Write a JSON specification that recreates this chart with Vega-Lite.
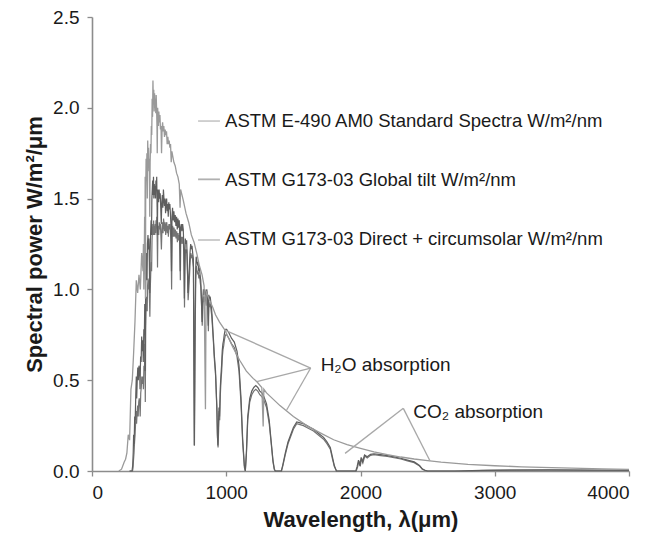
{
  "$schema": "https://vega.github.io/schema/vega-lite/v6.json",
  "autosize": "none",
  "width": 537,
  "height": 454,
  "padding": {"left": 92, "top": 17, "right": 38, "bottom": 64},
  "background": "white",
  "config": {
    "view": {"stroke": null},
    "font": "Liberation Sans",
    "axis": {"grid": false, "domainColor": "#8c8c8c", "domainWidth": 1.6, "tickColor": "#8c8c8c", "tickWidth": 1.3, "tickSize": 5, "labelFont": "Liberation Sans", "labelFontSize": 19, "labelColor": "#1a1a1a", "titleFont": "Liberation Sans", "titleFontSize": 22, "titleFontWeight": "bold", "titleColor": "#1a1a1a"}
  },
  "datasets": {
    "am0": [
      {"wl":200,"p":0.0},{"wl":220,"p":0.01},{"wl":240,"p":0.05},{"wl":250,"p":0.065},{"wl":260,"p":0.1},{"wl":270,"p":0.2},{"wl":280,"p":0.17},{"wl":290,"p":0.45},{"wl":300,"p":0.5},{"wl":310,"p":0.65},{"wl":320,"p":0.82},{"wl":330,"p":1.05},{"wl":340,"p":0.98},{"wl":350,"p":1.08},{"wl":360,"p":1.0},{"wl":370,"p":1.2},{"wl":380,"p":1.1},{"wl":383,"p":1.25},{"wl":386,"p":1.0},{"wl":389,"p":1.15},{"wl":392,"p":1.4},{"wl":394,"p":1.1},{"wl":396,"p":1.62},{"wl":398,"p":0.95},{"wl":400,"p":1.55},{"wl":403,"p":1.72},{"wl":406,"p":1.6},{"wl":409,"p":1.75},{"wl":412,"p":1.5},{"wl":415,"p":1.82},{"wl":418,"p":1.7},{"wl":421,"p":1.78},{"wl":424,"p":1.65},{"wl":427,"p":1.72},{"wl":430,"p":1.4},{"wl":433,"p":1.7},{"wl":436,"p":1.8},{"wl":439,"p":1.75},{"wl":442,"p":1.9},{"wl":445,"p":1.85},{"wl":448,"p":2.05},{"wl":451,"p":1.95},{"wl":454,"p":2.15},{"wl":457,"p":2.02},{"wl":460,"p":2.1},{"wl":463,"p":1.98},{"wl":466,"p":2.08},{"wl":469,"p":2.0},{"wl":472,"p":2.05},{"wl":475,"p":1.97},{"wl":478,"p":2.07},{"wl":481,"p":2.0},{"wl":484,"p":1.9},{"wl":486,"p":1.75},{"wl":489,"p":2.0},{"wl":492,"p":1.95},{"wl":495,"p":1.9},{"wl":498,"p":1.98},{"wl":502,"p":1.92},{"wl":506,"p":1.96},{"wl":510,"p":1.88},{"wl":514,"p":1.9},{"wl":518,"p":1.75},{"wl":522,"p":1.88},{"wl":526,"p":1.92},{"wl":530,"p":1.87},{"wl":535,"p":1.9},{"wl":540,"p":1.84},{"wl":545,"p":1.88},{"wl":550,"p":1.85},{"wl":555,"p":1.87},{"wl":560,"p":1.8},{"wl":565,"p":1.84},{"wl":570,"p":1.8},{"wl":575,"p":1.82},{"wl":580,"p":1.78},{"wl":585,"p":1.8},{"wl":590,"p":1.7},{"wl":595,"p":1.76},{"wl":600,"p":1.74},{"wl":610,"p":1.7},{"wl":620,"p":1.68},{"wl":630,"p":1.64},{"wl":640,"p":1.62},{"wl":650,"p":1.58},{"wl":656,"p":1.45},{"wl":660,"p":1.55},{"wl":670,"p":1.52},{"wl":680,"p":1.49},{"wl":700,"p":1.42},{"wl":720,"p":1.37},{"wl":740,"p":1.3},{"wl":760,"p":1.26},{"wl":780,"p":1.2},{"wl":800,"p":1.13},{"wl":820,"p":1.08},{"wl":835,"p":1.02},{"wl":845,"p":0.34},{"wl":850,"p":0.99},{"wl":870,"p":0.95},{"wl":900,"p":0.9},{"wl":920,"p":0.86},{"wl":950,"p":0.82},{"wl":990,"p":0.776},{"wl":1050,"p":0.68},{"wl":1100,"p":0.61},{"wl":1150,"p":0.55},{"wl":1200,"p":0.51},{"wl":1230,"p":0.49},{"wl":1265,"p":0.46},{"wl":1275,"p":0.245},{"wl":1280,"p":0.45},{"wl":1300,"p":0.43},{"wl":1400,"p":0.36},{"wl":1450,"p":0.33},{"wl":1500,"p":0.3},{"wl":1600,"p":0.25},{"wl":1700,"p":0.21},{"wl":1800,"p":0.172},{"wl":1900,"p":0.145},{"wl":2000,"p":0.125},{"wl":2100,"p":0.105},{"wl":2200,"p":0.09},{"wl":2300,"p":0.077},{"wl":2400,"p":0.066},{"wl":2500,"p":0.057},{"wl":2600,"p":0.049},{"wl":2800,"p":0.037},{"wl":3000,"p":0.029},{"wl":3200,"p":0.023},{"wl":3500,"p":0.017},{"wl":3800,"p":0.012},{"wl":4000,"p":0.009}
    ],
    "global": [
      {"wl":280,"p":0},{"wl":298,"p":0},{"wl":303,"p":0.03},{"wl":307,"p":0.1},{"wl":310,"p":0.2},{"wl":314,"p":0.15},{"wl":318,"p":0.3},{"wl":322,"p":0.28},{"wl":326,"p":0.42},{"wl":330,"p":0.52},{"wl":333,"p":0.4},{"wl":337,"p":0.5},{"wl":341,"p":0.57},{"wl":345,"p":0.5},{"wl":350,"p":0.58},{"wl":355,"p":0.55},{"wl":358,"p":0.45},{"wl":362,"p":0.63},{"wl":366,"p":0.6},{"wl":370,"p":0.74},{"wl":374,"p":0.66},{"wl":378,"p":0.72},{"wl":382,"p":0.6},{"wl":386,"p":0.78},{"wl":390,"p":0.75},{"wl":393,"p":0.92},{"wl":396,"p":0.55},{"wl":399,"p":0.95},{"wl":402,"p":1.15},{"wl":406,"p":1.2},{"wl":410,"p":1.05},{"wl":413,"p":1.25},{"wl":417,"p":1.3},{"wl":420,"p":1.22},{"wl":424,"p":1.28},{"wl":427,"p":1.15},{"wl":430,"p":0.98},{"wl":433,"p":1.2},{"wl":437,"p":1.32},{"wl":440,"p":1.38},{"wl":443,"p":1.3},{"wl":446,"p":1.5},{"wl":449,"p":1.55},{"wl":452,"p":1.6},{"wl":455,"p":1.52},{"wl":458,"p":1.62},{"wl":461,"p":1.5},{"wl":464,"p":1.58},{"wl":467,"p":1.52},{"wl":470,"p":1.57},{"wl":473,"p":1.5},{"wl":476,"p":1.6},{"wl":479,"p":1.55},{"wl":482,"p":1.62},{"wl":485,"p":1.45},{"wl":487,"p":1.3},{"wl":490,"p":1.55},{"wl":493,"p":1.52},{"wl":496,"p":1.48},{"wl":500,"p":1.55},{"wl":504,"p":1.5},{"wl":508,"p":1.53},{"wl":512,"p":1.45},{"wl":516,"p":1.36},{"wl":520,"p":1.48},{"wl":524,"p":1.52},{"wl":528,"p":1.45},{"wl":532,"p":1.55},{"wl":536,"p":1.5},{"wl":540,"p":1.46},{"wl":544,"p":1.5},{"wl":548,"p":1.42},{"wl":552,"p":1.48},{"wl":556,"p":1.5},{"wl":560,"p":1.43},{"wl":564,"p":1.47},{"wl":568,"p":1.4},{"wl":572,"p":1.48},{"wl":576,"p":1.44},{"wl":580,"p":1.47},{"wl":584,"p":1.42},{"wl":588,"p":1.35},{"wl":592,"p":1.1},{"wl":596,"p":1.4},{"wl":600,"p":1.45},{"wl":605,"p":1.38},{"wl":610,"p":1.43},{"wl":615,"p":1.37},{"wl":620,"p":1.41},{"wl":625,"p":1.35},{"wl":630,"p":1.4},{"wl":635,"p":1.33},{"wl":640,"p":1.39},{"wl":645,"p":1.34},{"wl":650,"p":1.38},{"wl":654,"p":1.28},{"wl":657,"p":1.1},{"wl":660,"p":1.34},{"wl":665,"p":1.36},{"wl":670,"p":1.32},{"wl":675,"p":1.36},{"wl":680,"p":1.33},{"wl":685,"p":1.2},{"wl":688,"p":0.95},{"wl":691,"p":1.15},{"wl":695,"p":1.28},{"wl":700,"p":1.25},{"wl":705,"p":1.27},{"wl":710,"p":1.15},{"wl":715,"p":0.98},{"wl":720,"p":1.05},{"wl":725,"p":1.12},{"wl":730,"p":1.2},{"wl":735,"p":1.25},{"wl":740,"p":1.23},{"wl":745,"p":1.24},{"wl":750,"p":1.2},{"wl":755,"p":1.17},{"wl":759,"p":0.6},{"wl":762,"p":0.14},{"wl":765,"p":0.5},{"wl":768,"p":0.85},{"wl":772,"p":1.1},{"wl":776,"p":1.18},{"wl":780,"p":1.16},{"wl":785,"p":1.14},{"wl":790,"p":1.15},{"wl":795,"p":1.1},{"wl":800,"p":1.12},{"wl":805,"p":1.08},{"wl":810,"p":1.05},{"wl":815,"p":0.95},{"wl":820,"p":0.82},{"wl":825,"p":0.95},{"wl":830,"p":1.0},{"wl":835,"p":0.97},{"wl":840,"p":1.0},{"wl":845,"p":0.98},{"wl":850,"p":0.95},{"wl":855,"p":1.0},{"wl":860,"p":0.97},{"wl":866,"p":0.8},{"wl":870,"p":0.97},{"wl":875,"p":0.95},{"wl":880,"p":0.96},{"wl":885,"p":0.93},{"wl":890,"p":0.9},{"wl":895,"p":0.85},{"wl":900,"p":0.78},{"wl":905,"p":0.72},{"wl":910,"p":0.65},{"wl":915,"p":0.6},{"wl":920,"p":0.55},{"wl":925,"p":0.45},{"wl":930,"p":0.35},{"wl":934,"p":0.2},{"wl":938,"p":0.14},{"wl":942,"p":0.25},{"wl":946,"p":0.35},{"wl":950,"p":0.3},{"wl":955,"p":0.45},{"wl":960,"p":0.52},{"wl":965,"p":0.58},{"wl":970,"p":0.66},{"wl":975,"p":0.7},{"wl":980,"p":0.72},{"wl":985,"p":0.75},{"wl":990,"p":0.77},{"wl":995,"p":0.78},{"wl":1003,"p":0.78},{"wl":1020,"p":0.76},{"wl":1040,"p":0.73},{"wl":1060,"p":0.71},{"wl":1080,"p":0.66},{"wl":1095,"p":0.58},{"wl":1110,"p":0.4},{"wl":1122,"p":0.18},{"wl":1135,"p":0.03},{"wl":1142,"p":0.0},{"wl":1150,"p":0.1},{"wl":1160,"p":0.3},{"wl":1175,"p":0.4},{"wl":1190,"p":0.44},{"wl":1205,"p":0.46},{"wl":1220,"p":0.47},{"wl":1235,"p":0.46},{"wl":1250,"p":0.44},{"wl":1265,"p":0.43},{"wl":1280,"p":0.41},{"wl":1300,"p":0.37},{"wl":1320,"p":0.28},{"wl":1335,"p":0.16},{"wl":1348,"p":0.06},{"wl":1358,"p":0.01},{"wl":1365,"p":0.0},{"wl":1410,"p":0.0},{"wl":1420,"p":0.03},{"wl":1440,"p":0.1},{"wl":1460,"p":0.16},{"wl":1480,"p":0.2},{"wl":1500,"p":0.24},{"wl":1525,"p":0.27},{"wl":1550,"p":0.265},{"wl":1575,"p":0.26},{"wl":1600,"p":0.25},{"wl":1625,"p":0.24},{"wl":1650,"p":0.23},{"wl":1675,"p":0.215},{"wl":1700,"p":0.2},{"wl":1725,"p":0.185},{"wl":1750,"p":0.16},{"wl":1775,"p":0.13},{"wl":1790,"p":0.08},{"wl":1805,"p":0.03},{"wl":1820,"p":0.0},{"wl":1965,"p":0.0},{"wl":1975,"p":0.025},{"wl":1985,"p":0.06},{"wl":1995,"p":0.03},{"wl":2005,"p":0.075},{"wl":2015,"p":0.05},{"wl":2030,"p":0.088},{"wl":2050,"p":0.078},{"wl":2075,"p":0.092},{"wl":2100,"p":0.095},{"wl":2150,"p":0.09},{"wl":2200,"p":0.085},{"wl":2250,"p":0.078},{"wl":2300,"p":0.07},{"wl":2350,"p":0.06},{"wl":2400,"p":0.05},{"wl":2440,"p":0.03},{"wl":2460,"p":0.012},{"wl":2480,"p":0.004},{"wl":2500,"p":0.0},{"wl":2700,"p":0.0},{"wl":2900,"p":0.003},{"wl":3100,"p":0.005},{"wl":3400,"p":0.006},{"wl":3700,"p":0.005},{"wl":4000,"p":0.004}
    ],
    "direct": [
      {"wl":280,"p":0},{"wl":302,"p":0},{"wl":306,"p":0.02},{"wl":309,"p":0.06},{"wl":313,"p":0.1},{"wl":317,"p":0.16},{"wl":321,"p":0.2},{"wl":325,"p":0.27},{"wl":329,"p":0.33},{"wl":332,"p":0.26},{"wl":336,"p":0.32},{"wl":340,"p":0.36},{"wl":344,"p":0.3},{"wl":348,"p":0.38},{"wl":352,"p":0.4},{"wl":356,"p":0.36},{"wl":359,"p":0.3},{"wl":363,"p":0.43},{"wl":367,"p":0.46},{"wl":371,"p":0.52},{"wl":375,"p":0.48},{"wl":379,"p":0.52},{"wl":383,"p":0.45},{"wl":387,"p":0.58},{"wl":391,"p":0.56},{"wl":394,"p":0.7},{"wl":397,"p":0.38},{"wl":400,"p":0.78},{"wl":403,"p":0.9},{"wl":407,"p":0.96},{"wl":411,"p":0.88},{"wl":414,"p":1.02},{"wl":418,"p":1.06},{"wl":421,"p":1.0},{"wl":425,"p":1.05},{"wl":428,"p":0.95},{"wl":431,"p":0.85},{"wl":434,"p":1.0},{"wl":438,"p":1.1},{"wl":441,"p":1.15},{"wl":444,"p":1.1},{"wl":447,"p":1.27},{"wl":450,"p":1.32},{"wl":453,"p":1.36},{"wl":456,"p":1.3},{"wl":459,"p":1.38},{"wl":462,"p":1.3},{"wl":465,"p":1.35},{"wl":468,"p":1.3},{"wl":471,"p":1.36},{"wl":474,"p":1.31},{"wl":477,"p":1.38},{"wl":480,"p":1.34},{"wl":483,"p":1.4},{"wl":486,"p":1.26},{"wl":488,"p":1.12},{"wl":491,"p":1.35},{"wl":494,"p":1.33},{"wl":497,"p":1.3},{"wl":501,"p":1.37},{"wl":505,"p":1.33},{"wl":509,"p":1.36},{"wl":513,"p":1.3},{"wl":517,"p":1.22},{"wl":521,"p":1.33},{"wl":525,"p":1.37},{"wl":529,"p":1.31},{"wl":533,"p":1.39},{"wl":537,"p":1.36},{"wl":541,"p":1.32},{"wl":545,"p":1.37},{"wl":549,"p":1.3},{"wl":553,"p":1.35},{"wl":557,"p":1.37},{"wl":561,"p":1.31},{"wl":565,"p":1.35},{"wl":569,"p":1.29},{"wl":573,"p":1.36},{"wl":577,"p":1.33},{"wl":581,"p":1.36},{"wl":585,"p":1.31},{"wl":589,"p":1.25},{"wl":593,"p":1.0},{"wl":597,"p":1.3},{"wl":601,"p":1.35},{"wl":606,"p":1.29},{"wl":611,"p":1.34},{"wl":616,"p":1.29},{"wl":621,"p":1.33},{"wl":626,"p":1.28},{"wl":631,"p":1.32},{"wl":636,"p":1.26},{"wl":641,"p":1.31},{"wl":646,"p":1.27},{"wl":651,"p":1.3},{"wl":655,"p":1.2},{"wl":658,"p":1.05},{"wl":661,"p":1.27},{"wl":666,"p":1.29},{"wl":671,"p":1.25},{"wl":676,"p":1.29},{"wl":681,"p":1.26},{"wl":686,"p":1.12},{"wl":689,"p":0.9},{"wl":692,"p":1.1},{"wl":696,"p":1.22},{"wl":701,"p":1.2},{"wl":706,"p":1.22},{"wl":711,"p":1.1},{"wl":716,"p":0.94},{"wl":721,"p":1.0},{"wl":726,"p":1.07},{"wl":731,"p":1.15},{"wl":736,"p":1.2},{"wl":741,"p":1.18},{"wl":746,"p":1.19},{"wl":751,"p":1.15},{"wl":756,"p":1.12},{"wl":760,"p":0.5},{"wl":763,"p":0.14},{"wl":766,"p":0.45},{"wl":769,"p":0.8},{"wl":773,"p":1.05},{"wl":777,"p":1.13},{"wl":781,"p":1.11},{"wl":786,"p":1.09},{"wl":791,"p":1.1},{"wl":796,"p":1.06},{"wl":801,"p":1.08},{"wl":806,"p":1.04},{"wl":811,"p":1.01},{"wl":816,"p":0.91},{"wl":821,"p":0.8},{"wl":826,"p":0.91},{"wl":831,"p":0.96},{"wl":836,"p":0.93},{"wl":841,"p":0.96},{"wl":846,"p":0.94},{"wl":851,"p":0.91},{"wl":856,"p":0.96},{"wl":861,"p":0.93},{"wl":867,"p":0.77},{"wl":871,"p":0.93},{"wl":876,"p":0.91},{"wl":881,"p":0.92},{"wl":886,"p":0.89},{"wl":891,"p":0.86},{"wl":896,"p":0.81},{"wl":901,"p":0.75},{"wl":906,"p":0.69},{"wl":911,"p":0.62},{"wl":916,"p":0.57},{"wl":921,"p":0.52},{"wl":926,"p":0.42},{"wl":931,"p":0.32},{"wl":935,"p":0.18},{"wl":939,"p":0.13},{"wl":943,"p":0.22},{"wl":947,"p":0.33},{"wl":951,"p":0.28},{"wl":956,"p":0.42},{"wl":961,"p":0.5},{"wl":966,"p":0.55},{"wl":971,"p":0.63},{"wl":976,"p":0.67},{"wl":981,"p":0.69},{"wl":986,"p":0.72},{"wl":991,"p":0.74},{"wl":996,"p":0.75},{"wl":1003,"p":0.75},{"wl":1020,"p":0.73},{"wl":1040,"p":0.7},{"wl":1060,"p":0.68},{"wl":1080,"p":0.63},{"wl":1095,"p":0.55},{"wl":1110,"p":0.37},{"wl":1122,"p":0.16},{"wl":1135,"p":0.02},{"wl":1142,"p":0.0},{"wl":1150,"p":0.09},{"wl":1160,"p":0.28},{"wl":1175,"p":0.38},{"wl":1190,"p":0.42},{"wl":1205,"p":0.44},{"wl":1220,"p":0.45},{"wl":1235,"p":0.44},{"wl":1250,"p":0.42},{"wl":1265,"p":0.41},{"wl":1280,"p":0.39},{"wl":1300,"p":0.35},{"wl":1320,"p":0.26},{"wl":1335,"p":0.15},{"wl":1348,"p":0.05},{"wl":1358,"p":0.01},{"wl":1365,"p":0.0},{"wl":1412,"p":0.0},{"wl":1422,"p":0.03},{"wl":1440,"p":0.09},{"wl":1460,"p":0.15},{"wl":1480,"p":0.19},{"wl":1500,"p":0.23},{"wl":1525,"p":0.26},{"wl":1550,"p":0.255},{"wl":1575,"p":0.25},{"wl":1600,"p":0.24},{"wl":1625,"p":0.23},{"wl":1650,"p":0.22},{"wl":1675,"p":0.205},{"wl":1700,"p":0.19},{"wl":1725,"p":0.175},{"wl":1750,"p":0.15},{"wl":1775,"p":0.12},{"wl":1790,"p":0.07},{"wl":1805,"p":0.025},{"wl":1822,"p":0.0},{"wl":1968,"p":0.0},{"wl":1978,"p":0.02},{"wl":1988,"p":0.055},{"wl":1998,"p":0.025},{"wl":2008,"p":0.07},{"wl":2018,"p":0.045},{"wl":2032,"p":0.082},{"wl":2050,"p":0.072},{"wl":2075,"p":0.086},{"wl":2100,"p":0.09},{"wl":2150,"p":0.085},{"wl":2200,"p":0.08},{"wl":2250,"p":0.073},{"wl":2300,"p":0.066},{"wl":2350,"p":0.056},{"wl":2400,"p":0.046},{"wl":2440,"p":0.027},{"wl":2460,"p":0.01},{"wl":2480,"p":0.003},{"wl":2500,"p":0.0},{"wl":2750,"p":0.0},{"wl":2950,"p":0.003},{"wl":3150,"p":0.005},{"wl":3450,"p":0.005},{"wl":3750,"p":0.004},{"wl":4000,"p":0.003}
    ],
    "legend": [
      {"label":"ASTM E-490 AM0 Standard Spectra W/m²/nm","x1":790,"x2":953,"ly":1.927,"ty":1.93,"tx":991,"color":"#cccccc"},
      {"label":"ASTM G173-03 Global tilt W/m²/nm","x1":790,"x2":953,"ly":1.606,"ty":1.604,"tx":991,"color":"#b0b0b0"},
      {"label":"ASTM G173-03 Direct + circumsolar W/m²/nm","x1":790,"x2":953,"ly":1.272,"ty":1.2775,"tx":991,"color":"#c8c8c8"}
    ],
    "leaders": [
      {"xa":990,"ya":0.776,"xb":1629,"yb":0.567},
      {"xa":1227,"ya":0.492,"xb":1629,"yb":0.567},
      {"xa":1450,"ya":0.336,"xb":1629,"yb":0.567},
      {"xa":1885,"ya":0.097,"xb":2319,"yb":0.345},
      {"xa":2518,"ya":0.055,"xb":2319,"yb":0.345}
    ],
    "notes": [
      {"label":"H₂O absorption","x":1703,"y":0.584},
      {"label":"CO₂ absorption","x":2393,"y":0.3265}
    ]
  },
  "layer": [
    {
      "data": {"name": "direct"},
      "mark": {"type": "line", "color": "#747474", "strokeWidth": 1.2},
      "encoding": {
        "x": {"field": "wl", "type": "quantitative", "scale": {"domain": [0, 4000], "nice": false}, "axis": {"values": [0, 1000, 2000, 3000, 4000], "format": "d", "title": "Wavelength, λ(μm)", "labelPadding": 7, "titlePadding": 7}},
        "y": {"field": "p", "type": "quantitative", "scale": {"domain": [0, 2.5], "nice": false}, "axis": {"values": [0, 0.5, 1, 1.5, 2, 2.5], "format": ".1f", "title": "Spectral power W/m²/μm", "labelPadding": 8, "titlePadding": 6}}
      }
    },
    {
      "data": {"name": "global"},
      "mark": {"type": "line", "color": "#5e5e5e", "strokeWidth": 1.2},
      "encoding": {
        "x": {"field": "wl", "type": "quantitative"},
        "y": {"field": "p", "type": "quantitative"}
      }
    },
    {
      "data": {"name": "am0"},
      "mark": {"type": "line", "color": "#9a9a9a", "strokeWidth": 1.3},
      "encoding": {
        "x": {"field": "wl", "type": "quantitative"},
        "y": {"field": "p", "type": "quantitative"}
      }
    },
    {
      "data": {"name": "leaders"},
      "mark": {"type": "rule", "color": "#a8a8a8", "strokeWidth": 1.3},
      "encoding": {
        "x": {"field": "xa", "type": "quantitative"},
        "y": {"field": "ya", "type": "quantitative"},
        "x2": {"field": "xb"},
        "y2": {"field": "yb"}
      }
    },
    {
      "data": {"name": "legend"},
      "mark": {"type": "rule", "strokeWidth": 1.8},
      "encoding": {
        "x": {"field": "x1", "type": "quantitative"},
        "x2": {"field": "x2"},
        "y": {"field": "ly", "type": "quantitative"},
        "color": {"field": "color", "type": "nominal", "scale": null}
      }
    },
    {
      "data": {"name": "legend"},
      "mark": {"type": "text", "align": "left", "baseline": "middle", "fontSize": 18.5, "color": "#1a1a1a", "font": "Liberation Sans"},
      "encoding": {
        "x": {"field": "tx", "type": "quantitative"},
        "y": {"field": "ty", "type": "quantitative"},
        "text": {"field": "label"}
      }
    },
    {
      "data": {"name": "notes"},
      "mark": {"type": "text", "align": "left", "baseline": "middle", "fontSize": 19, "color": "#1a1a1a", "font": "Liberation Sans"},
      "encoding": {
        "x": {"field": "x", "type": "quantitative"},
        "y": {"field": "y", "type": "quantitative"},
        "text": {"field": "label"}
      }
    }
  ]
}
